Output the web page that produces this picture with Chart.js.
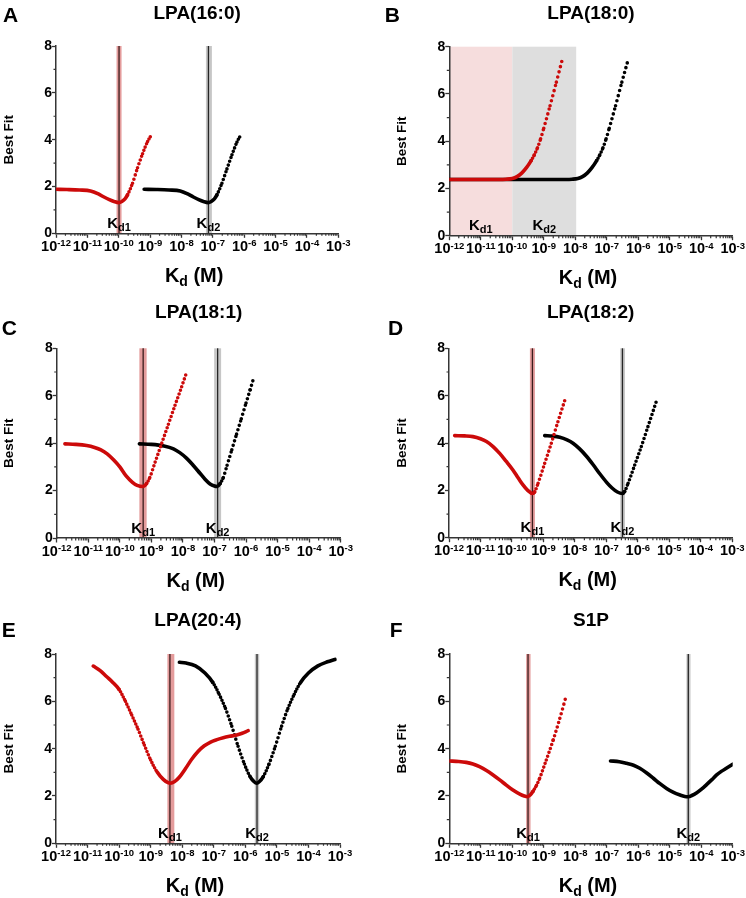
<!DOCTYPE html>
<html><head><meta charset="utf-8">
<script src="https://cdn.jsdelivr.net/npm/chart.js@4.4.1/dist/chart.umd.min.js"></script>
<style>
html,body{margin:0;padding:0;background:#fff;}
#wrap{position:relative;width:746px;height:898px;overflow:hidden;background:#fff;}
canvas{position:absolute;}
</style></head><body><div id="wrap"></div>
<script>
// ---------------- DATA ----------------
const xTickExponents = [-12,-11,-10,-9,-8,-7,-6,-5,-4,-3];
const yTickValues = [0,2,4,6,8];
const yMinorTicks = [1,3,5,7];
const panelLetters = ['A','B','C','D','E','F'];
const panelTitles = ['LPA(16:0)','LPA(18:0)','LPA(18:1)','LPA(18:2)','LPA(20:4)','S1P'];

// log10(Kd / M) and best-fit values
const A_red_logKd   = [-12.0,-11.65,-11.25,-10.9,-10.65,-10.47,-10.3,-10.15,-10.0,-9.9,-9.8,-9.72,-9.56,-9.4,-9.24,-9.08,-8.98];
const A_red_fit     = [1.88,1.87,1.85,1.81,1.68,1.55,1.44,1.36,1.31,1.36,1.47,1.64,2.14,2.8,3.4,3.92,4.15];
const A_black_logKd = [-9.19,-8.8,-8.4,-8.04,-7.8,-7.62,-7.45,-7.3,-7.15,-7.05,-6.95,-6.87,-6.71,-6.55,-6.39,-6.23,-6.13];
const A_black_fit   = [1.88,1.87,1.85,1.81,1.68,1.55,1.44,1.36,1.31,1.36,1.47,1.64,2.14,2.75,3.35,3.9,4.15];

const B_red_logKd   = [-12,-11,-10.4,-10.2,-10.0,-9.85,-9.7,-9.55,-9.4,-9.3,-9.2,-9.1,-9.0,-8.8,-8.6,-8.4];
const B_red_fit     = [2.38,2.38,2.38,2.39,2.42,2.5,2.65,2.88,3.18,3.42,3.72,4.1,4.55,5.5,6.5,7.52];
const B_black_logKd = [-12,-10,-8.3,-8.1,-7.92,-7.77,-7.62,-7.47,-7.32,-7.22,-7.12,-7.02,-6.92,-6.72,-6.52,-6.32];
const B_black_fit   = [2.38,2.38,2.38,2.39,2.42,2.5,2.65,2.88,3.18,3.42,3.72,4.1,4.55,5.5,6.5,7.45];

const C_red_logKd   = [-11.74,-11.4,-11.05,-10.8,-10.6,-10.4,-10.2,-10.0,-9.8,-9.6,-9.45,-9.27,-9.15,-9.05,-8.88,-8.67,-8.46,-8.25,-8.04,-7.9];
const C_red_fit     = [3.97,3.95,3.9,3.82,3.72,3.55,3.3,3.0,2.62,2.35,2.22,2.17,2.3,2.55,3.2,4.0,4.8,5.6,6.38,6.92];
const C_black_logKd = [-9.38,-9.0,-8.6,-8.3,-8.1,-7.88,-7.67,-7.46,-7.3,-7.14,-7.0,-6.91,-6.82,-6.72,-6.6,-6.45,-6.3,-6.15,-6.0,-5.87,-5.75];
const C_black_fit   = [3.97,3.95,3.88,3.76,3.6,3.36,3.06,2.73,2.48,2.28,2.19,2.17,2.3,2.55,3.07,3.72,4.38,5.03,5.69,6.25,6.78];

const D_red_logKd   = [-11.82,-11.5,-11.24,-11.0,-10.81,-10.6,-10.39,-10.18,-9.97,-9.8,-9.65,-9.5,-9.35,-9.28,-9.17,-8.96,-8.75,-8.54,-8.29];
const D_red_fit     = [4.31,4.3,4.27,4.18,4.06,3.85,3.56,3.22,2.86,2.52,2.23,2.0,1.87,1.93,2.3,3.14,3.99,4.9,5.93];
const D_black_logKd = [-8.96,-8.7,-8.48,-8.25,-8.06,-7.85,-7.64,-7.42,-7.21,-7.0,-6.82,-6.65,-6.49,-6.42,-6.31,-6.1,-5.89,-5.68,-5.39];
const D_black_fit   = [4.31,4.29,4.24,4.13,3.99,3.75,3.45,3.08,2.7,2.35,2.1,1.93,1.87,1.95,2.3,3.07,3.85,4.69,5.85];

const E_red_logKd   = [-10.82,-10.6,-10.4,-10.2,-10.0,-9.8,-9.6,-9.4,-9.2,-9.0,-8.8,-8.6,-8.45,-8.37,-8.25,-8.1,-7.9,-7.7,-7.5,-7.3,-7.1,-6.9,-6.7,-6.5,-6.3,-6.1,-5.91];
const E_red_fit     = [7.49,7.3,7.05,6.8,6.5,6.0,5.42,4.82,4.15,3.52,3.02,2.7,2.56,2.54,2.6,2.78,3.15,3.55,3.88,4.12,4.28,4.38,4.46,4.52,4.57,4.65,4.76];
const E_black_logKd = [-8.09,-7.88,-7.58,-7.28,-7.03,-6.83,-6.63,-6.43,-6.23,-6.03,-5.85,-5.72,-5.64,-5.56,-5.43,-5.25,-5.05,-4.85,-4.65,-4.45,-4.25,-4.0,-3.7,-3.4,-3.16];
const E_black_fit   = [7.65,7.62,7.5,7.2,6.8,6.3,5.7,4.95,4.1,3.35,2.82,2.6,2.54,2.6,2.82,3.35,4.1,4.95,5.7,6.3,6.8,7.2,7.5,7.67,7.77];

const F_red_logKd   = [-12,-11.7,-11.46,-11.25,-11.04,-10.82,-10.61,-10.4,-10.19,-9.98,-9.76,-9.62,-9.52,-9.43,-9.34,-9.23,-9.13,-8.92,-8.7,-8.49,-8.3];
const F_red_fit     = [3.48,3.46,3.42,3.35,3.24,3.08,2.89,2.68,2.46,2.25,2.08,2.0,1.97,2.04,2.2,2.45,2.75,3.52,4.37,5.28,6.17];
const F_black_logKd = [-6.88,-6.6,-6.37,-6.15,-5.95,-5.73,-5.52,-5.31,-5.1,-4.88,-4.67,-4.52,-4.41,-4.3,-4.14,-3.98,-3.83,-3.67,-3.51,-3.35,-3.19,-3.0];
const F_black_fit   = [3.48,3.45,3.38,3.3,3.17,2.97,2.75,2.52,2.32,2.15,2.04,1.98,1.97,2.02,2.14,2.3,2.48,2.68,2.89,3.05,3.18,3.34];

// Kd confidence bands: [low, high, best] in log10(Kd); Kd1 then Kd2
const A_kdBands = [[-10.07,-9.91,-9.99],[-7.22,-7.03,-7.14]];
const B_kdBands = [[-12,-10,null],[-10,-7.97,null]];
const C_kdBands = [[-9.38,-9.15,-9.26],[-7.01,-6.79,-6.9]];
const D_kdBands = [[-9.43,-9.27,-9.35],[-6.56,-6.41,-6.49]];
const E_kdBands = [[-8.47,-8.25,-8.39],[-5.7,-5.56,-5.63]];
const F_kdBands = [[-9.56,-9.42,-9.5],[-4.47,-4.34,-4.41]];

const seriesRed   = [[A_red_logKd,A_red_fit],[B_red_logKd,B_red_fit],[C_red_logKd,C_red_fit],[D_red_logKd,D_red_fit],[E_red_logKd,E_red_fit],[F_red_logKd,F_red_fit]];
const seriesBlack = [[A_black_logKd,A_black_fit],[B_black_logKd,B_black_fit],[C_black_logKd,C_black_fit],[D_black_logKd,D_black_fit],[E_black_logKd,E_black_fit],[F_black_logKd,F_black_fit]];
const kdBands = [A_kdBands,B_kdBands,C_kdBands,D_kdBands,E_kdBands,F_kdBands];

// ---------------- LAYOUT / STYLE ----------------
const FONT = '"Liberation Sans", Arial, Helvetica, sans-serif';
const AXIS_COLOR = '#353535';
const RED = '#cc0a0a';
const BLACK = '#000000';
const DOT_STEP = 1.35;
const LINE_W = 3.6;
const YW = 20, XH = 6;
const GEOM = [
  {left:0,   top:0,   w:373, h:300, L:56,   R:338.3, T:46,   B:233.3, titleY:18.5, letterX:3,    letterY:21.7},
  {left:373, top:0,   w:373, h:300, L:76.3, R:359.7, T:46.7, B:235.7, titleY:18.5, letterX:11.7, letterY:21.7},
  {left:0,   top:300, w:373, h:300, L:56.7, R:340.7, T:48.3, B:238,   titleY:18.3, letterX:1.7,  letterY:35},
  {left:373, top:300, w:373, h:300, L:76,   R:359.3, T:48.3, B:237.7, titleY:18.3, letterX:15,   letterY:35},
  {left:0,   top:600, w:373, h:298, L:56,   R:340,   T:54,   B:243.3, titleY:26,   letterX:1.7,  letterY:36.7},
  {left:373, top:600, w:373, h:298, L:76.3, R:359.7, T:54,   B:243.3, titleY:26,   letterX:16.7, letterY:36.7}
];

function dotDash(ctx) {
  const dx = Math.abs(ctx.p1.x - ctx.p0.x), dy = Math.abs(ctx.p1.y - ctx.p0.y);
  if (dx < 1e-6) return undefined;
  const sp = DOT_STEP * Math.sqrt(1 + (dy/dx)*(dy/dx));
  return sp < 2.6 ? undefined : [0, sp];
}

function curveDataset(s, color) {
  return {
    data: s[0].map((lx,i) => ({x: Math.pow(10, lx), y: s[1][i]})),
    borderColor: color, borderWidth: LINE_W, pointRadius: 0, pointHoverRadius: 0,
    borderCapStyle: 'round', borderJoinStyle: 'round',
    cubicInterpolationMode: 'monotone', fill: false,
    segment: { borderDash: dotDash }
  };
}

function drawRich(ctx, parts, x, y) {
  let w = 0;
  for (const p of parts) { ctx.font = p.font; p.w = ctx.measureText(p.t).width; w += p.w; }
  let cx = x - w/2;
  ctx.textAlign = 'left'; ctx.textBaseline = 'alphabetic';
  for (const p of parts) { ctx.font = p.font; ctx.fillText(p.t, cx, y + (p.dy || 0)); cx += p.w; }
}

const figPlugin = {
  id: 'fig',
  beforeDraw(chart, args, o) {
    const {ctx} = chart; const xs = chart.scales.x, ys = chart.scales.y;
    const yTop = ys.getPixelForValue(8), yBot = ys.getPixelForValue(0);
    ctx.save();
    o.bands.forEach((b, k) => {
      const x0 = xs.getPixelForValue(Math.pow(10, b[0])), x1 = xs.getPixelForValue(Math.pow(10, b[1]));
      if (b[2] === null) {
        ctx.fillStyle = k === 0 ? '#f6dddd' : '#dedede';
      } else {
        ctx.fillStyle = k === 0 ? '#e49c9c' : '#c6c6c6';
      }
      ctx.fillRect(x0, yTop, x1 - x0, yBot - yTop);
      if (b[2] !== null) {
        const xm = xs.getPixelForValue(Math.pow(10, b[2]));
        ctx.strokeStyle = k === 0 ? '#3a1c1c' : '#262626';
        ctx.lineWidth = 1.3;
        ctx.beginPath(); ctx.moveTo(xm, yTop); ctx.lineTo(xm, yBot); ctx.stroke();
      }
      const xc = b[2] === null ? xs.getPixelForValue(Math.pow(10, (b[0] + b[1]) / 2)) : xs.getPixelForValue(Math.pow(10, b[2]));
      ctx.fillStyle = '#000';
      drawRich(ctx, [
        {t: 'K', font: `bold 15px ${FONT}`},
        {t: k === 0 ? 'd1' : 'd2', font: `bold 11px ${FONT}`, dy: 3}
      ], xc, yBot - 5.5);
    });
    ctx.restore();
  },
  afterDraw(chart, args, o) {
    const {ctx} = chart; const xs = chart.scales.x, ys = chart.scales.y;
    const a = chart.chartArea; const g = o.geom;
    ctx.save();
    ctx.strokeStyle = AXIS_COLOR; ctx.lineWidth = 1.2;
    ctx.beginPath();
    for (let i = 0; i < xTickExponents.length - 1; i++) {
      for (let m = 2; m <= 9; m++) {
        const px = xs.getPixelForValue(m * Math.pow(10, xTickExponents[i]));
        ctx.moveTo(px, a.bottom); ctx.lineTo(px, a.bottom + 2.5);
      }
    }
    for (const v of yMinorTicks) {
      const py = ys.getPixelForValue(v);
      ctx.moveTo(a.left, py); ctx.lineTo(a.left - 2.5, py);
    }
    ctx.stroke();
    ctx.fillStyle = '#000';
    for (const e of xTickExponents) {
      const px = xs.getPixelForValue(Math.pow(10, e));
      drawRich(ctx, [
        {t: '10', font: `bold 14.5px ${FONT}`},
        {t: String(e), font: `bold 9.5px ${FONT}`, dy: -4.8}
      ], px, a.bottom + 17.6);
    }
    // x title
    drawRich(ctx, [
      {t: 'K', font: `bold 20px ${FONT}`},
      {t: 'd', font: `bold 14px ${FONT}`, dy: 4},
      {t: ' (M)', font: `bold 20px ${FONT}`}
    ], (a.left + a.right) / 2 - 3, a.bottom + 48.5);
    // y title
    ctx.save();
    ctx.translate(a.left - 47, (a.top + a.bottom) / 2);
    ctx.rotate(-Math.PI / 2);
    ctx.font = `bold 13.5px ${FONT}`; ctx.textAlign = 'center'; ctx.textBaseline = 'middle';
    ctx.fillText('Best Fit', 0, 0);
    ctx.restore();
    // panel title
    ctx.font = `bold 19px ${FONT}`; ctx.textAlign = 'center'; ctx.textBaseline = 'alphabetic';
    ctx.fillText(o.title, (a.left + a.right) / 2, g.titleY);
    // panel letter
    ctx.font = `bold 21px ${FONT}`; ctx.textAlign = 'left';
    ctx.fillText(o.letter, g.letterX, g.letterY);
    ctx.restore();
  }
};

const wrap = document.getElementById('wrap');
GEOM.forEach((g, i) => {
  const cv = document.createElement('canvas');
  cv.width = g.w; cv.height = g.h;
  cv.style.left = g.left + 'px'; cv.style.top = g.top + 'px';
  cv.style.width = g.w + 'px'; cv.style.height = g.h + 'px';
  wrap.appendChild(cv);
  new Chart(cv, {
    type: 'line',
    data: { datasets: [curveDataset(seriesRed[i], RED), curveDataset(seriesBlack[i], BLACK)] },
    plugins: [figPlugin],
    options: {
      responsive: false, animation: false, devicePixelRatio: 1,
      layout: { padding: { left: g.L - YW, right: g.w - g.R, top: g.T, bottom: g.h - g.B - XH } },
      plugins: {
        legend: { display: false }, tooltip: { enabled: false }, title: { display: false },
        fig: { geom: g, bands: kdBands[i], title: panelTitles[i], letter: panelLetters[i] }
      },
      scales: {
        x: {
          type: 'logarithmic', min: Math.pow(10, xTickExponents[0]), max: Math.pow(10, xTickExponents[xTickExponents.length - 1]),
          afterBuildTicks: s => { s.ticks = xTickExponents.map(e => ({value: Math.pow(10, e)})); },
          afterFit: s => { s.height = XH; },
          ticks: { display: false },
          grid: { drawOnChartArea: false, drawTicks: true, tickLength: 4.5, tickColor: AXIS_COLOR, tickWidth: 1.3 },
          border: { display: true, color: AXIS_COLOR, width: 1.5 }
        },
        y: {
          type: 'linear', min: yTickValues[0], max: yTickValues[yTickValues.length - 1],
          afterBuildTicks: s => { s.ticks = yTickValues.map(v => ({value: v})); },
          afterFit: s => { s.width = YW; },
          ticks: { font: { family: FONT, size: 14, weight: 'bold' }, color: '#000', padding: 0 },
          grid: { drawOnChartArea: false, drawTicks: true, tickLength: 4, tickColor: AXIS_COLOR, tickWidth: 1.3 },
          border: { display: true, color: AXIS_COLOR, width: 1.5 }
        }
      }
    }
  });
});
</script></body></html>
